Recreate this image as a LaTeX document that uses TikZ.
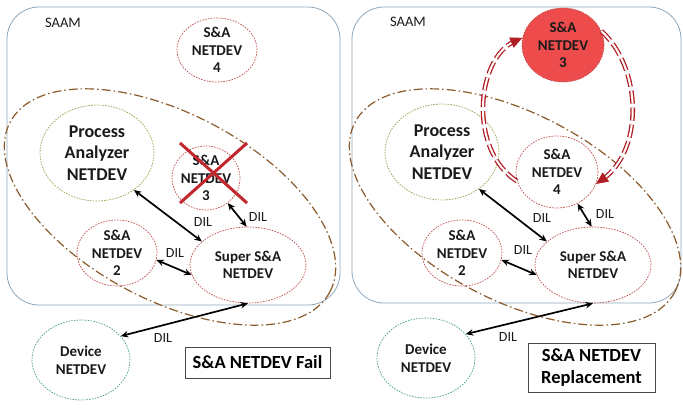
\documentclass[tikz,border=0pt]{standalone}
\usepackage{fontspec}
\setmainfont{Carlito}
\usetikzlibrary{shapes.geometric,arrows.meta}
\definecolor{saam}{HTML}{8FA8BC}
\definecolor{sared}{HTML}{C0504D}
\definecolor{olivec}{HTML}{A0A050}
\definecolor{devgreen}{HTML}{4AA08A}
\definecolor{brownl}{HTML}{8B5A2B}
\definecolor{xred}{HTML}{C1272D}
\definecolor{fillred}{HTML}{EE4C4C}
\definecolor{darkred}{HTML}{B01E23}
\definecolor{txt}{HTML}{1A1A1A}
\begin{document}
\begin{tikzpicture}[x=1pt,y=-1pt,
  saambox/.style={draw=saam, line width=0.8pt, rounded corners=32pt},
  ring/.style={ellipse, line width=0.7pt, dash pattern=on 1.6pt off 1.2pt, inner sep=0pt},
  sadev/.style={ring, draw=sared},
  padev/.style={ring, draw=olivec},
  devdev/.style={ring, draw=devgreen},
  lbl/.style={font=\bfseries\fontsize{15}{17.5}\selectfont, align=center, text=txt},
  biglbl/.style={font=\bfseries\fontsize{18}{21.5}\selectfont, align=center, text=txt},
  saamlbl/.style={font=\fontsize{14.5}{17}\selectfont, text=txt},
  dil/.style={font=\fontsize{14}{16}\selectfont, text=txt},
  bigell/.style={ellipse, draw=brownl, line width=1.2pt, dash pattern=on 9pt off 3pt on 1.5pt off 3pt, minimum width=362pt, minimum height=186pt, inner sep=0pt, rotate=-28},
  link/.style={line width=1.7pt, draw=black, {Stealth[length=7.5pt,width=6.5pt]}-{Stealth[length=7.5pt,width=6.5pt]}},
  capbox/.style={draw=txt!80, line width=0.8pt, inner sep=0pt, align=center, text=black, font=\bfseries\fontsize{18.5}{22}\selectfont},
  movel/.style={draw=darkred, line width=1.3pt, double=white, double distance=2pt, dash pattern=on 13pt off 4pt, shorten >=8pt},
  movetip/.style={draw=darkred, line width=0.8pt, dash pattern=on 0pt off 4000pt, -{Triangle[length=12pt,width=11pt,fill=darkred]}}
]
\useasboundingbox (0,0) rectangle (683,410);

% ================= LEFT PANEL =================
\draw[saambox] (7,7) rectangle (340,305);
\node[saamlbl] (saamL) at (63,23) {SAAM};
\node[bigell] (ellL) at (170,207) {};

\node[sadev, minimum width=80pt, minimum height=64pt, label={[lbl]center:S\&A\\NETDEV\\4}] (n4L) at (217,50) {};
\node[padev, minimum width=114pt, minimum height=96pt, label={[biglbl]center:Process\\Analyzer\\NETDEV}] (paL) at (97,153) {};
\node[sadev, minimum width=68pt, minimum height=64pt, label={[lbl]center:S\&A\\NETDEV\\3}] (n3L) at (206,178) {};
\node[sadev, minimum width=80pt, minimum height=66pt, label={[lbl]center:S\&A\\NETDEV\\2}] (n2L) at (117,253) {};
\node[sadev, minimum width=116pt, minimum height=76pt, label={[lbl]center:Super S\&A\\NETDEV}] (supL) at (248,265) {};
\node[devdev, minimum width=98pt, minimum height=80pt, label={[lbl]center:Device\\NETDEV}] (devL) at (81,360) {};

% red cross
\draw[xred, line width=3pt] ([shift={(-26,-35)}]n3L.center) -- ([shift={(41,25)}]n3L.center);
\draw[xred, line width=3pt] ([shift={(41,-35)}]n3L.center) -- ([shift={(-26,25)}]n3L.center);

\draw[link] (paL.-45) -- (supL.153);
\draw[link] (n3L.-49) -- (supL.92);
\draw[link] (n2L.-10) -- (supL.190);
\draw[link] (devL.31) -- (supL.-90);
\node[dil] (dil1L) at (203,222) {DIL};
\node[dil] (dil2L) at (258,217) {DIL};
\node[dil] (dil3L) at (175,253) {DIL};
\node[dil] (dil4L) at (163,338) {DIL};

\node[capbox, minimum width=145pt, minimum height=31pt] (capL) at (257.5,362.5) {S\&A NETDEV Fail};

% ================= RIGHT PANEL =================
\draw[saambox] (352,7) rectangle (681,303);
\node[saamlbl] (saamR) at (408,22) {SAAM};
\node[bigell] (ellR) at (515,207) {};

\node[sadev, fill=fillred, minimum width=82pt, minimum height=74pt, label={[lbl]center:S\&A\\NETDEV\\3}] (n3R) at (563,45) {};
\node[padev, minimum width=114pt, minimum height=96pt, label={[biglbl]center:Process\\Analyzer\\NETDEV}] (paR) at (442,152) {};
\node[sadev, minimum width=82pt, minimum height=72pt, label={[lbl]center:S\&A\\NETDEV\\4}] (n4R) at (557,172) {};
\node[sadev, minimum width=80pt, minimum height=66pt, label={[lbl]center:S\&A\\NETDEV\\2}] (n2R) at (462,253) {};
\node[sadev, minimum width=116pt, minimum height=76pt, label={[lbl]center:Super S\&A\\NETDEV}] (supR) at (593,265) {};
\node[devdev, minimum width=98pt, minimum height=80pt, label={[lbl]center:Device\\NETDEV}] (devR) at (426,358) {};

\draw[link] (paR.-45) -- (supR.153);
\draw[link] (n4R.-57) -- (supR.92);
\draw[link] (n2R.-10) -- (supR.190);
\draw[link] (devR.31) -- (supR.-90);
\node[dil] (dil1R) at (542,218) {DIL};
\node[dil] (dil2R) at (605,214) {DIL};
\node[dil] (dil3R) at (523,250) {DIL};
\node[dil] (dil4R) at (508,337) {DIL};

% replacement move arrows
\draw[movel] (n4R.193) .. controls (468,150) and (476,58) .. (n3R.170);
\path[movetip] (n4R.193) .. controls (468,150) and (476,58) .. (n3R.170);
\draw[movel] (n3R.20) .. controls (642,68) and (644,150) .. (n4R.-17);
\path[movetip] (n3R.20) .. controls (642,68) and (644,150) .. (n4R.-17);

\node[capbox, minimum width=127pt, minimum height=49pt] (capR) at (591.5,367.5) {S\&A NETDEV\\Replacement};
\end{tikzpicture}
\end{document}
